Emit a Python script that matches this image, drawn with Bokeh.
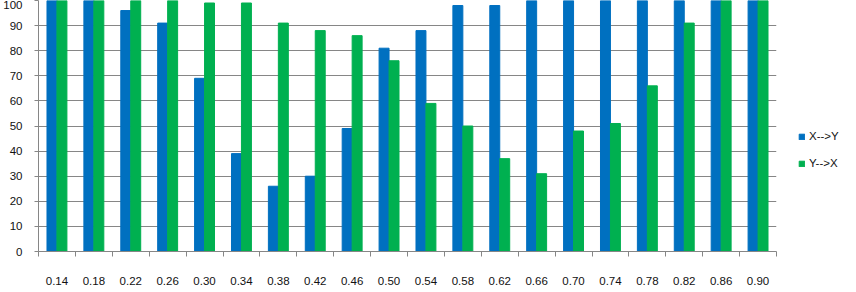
from bokeh.plotting import figure
from bokeh.models import FixedTicker, Range1d, Legend, LegendItem, ColumnDataSource
from bokeh.embed import file_html
from bokeh.resources import INLINE

categories = ["0.14", "0.18", "0.22", "0.26", "0.30", "0.34", "0.38", "0.42", "0.46", "0.50",
              "0.54", "0.58", "0.62", "0.66", "0.70", "0.74", "0.78", "0.82", "0.86", "0.90"]
x_to_y = [100, 100, 96, 91, 69, 39, 26, 30, 49, 81, 88, 98, 98, 100, 100, 100, 100, 100, 100, 100]
y_to_x = [100, 100, 100, 100, 99, 99, 91, 88, 86, 76, 59, 50, 37, 31, 48, 51, 66, 91, 100, 100]
y_ticks = [0, 10, 20, 30, 40, 50, 60, 70, 80, 90, 100]

n = len(categories)
centers = [i + 0.5 for i in range(n)]
bar_w = 0.27
src = ColumnDataSource(dict(
    xb=[c - bar_w / 2 for c in centers],
    xg=[c + bar_w / 2 for c in centers],
    a=x_to_y, b=y_to_x))

FONT = "Liberation Sans"
GRID = "#868686"

p = figure(frame_width=738, frame_height=251, output_backend="svg", toolbar_location=None,
           x_range=Range1d(0, n), y_range=Range1d(0, 100),
           min_border_left=0, min_border_right=0, min_border_top=0, min_border_bottom=0)
p.outline_line_color = None

rb = p.vbar(x="xb", top="a", width=bar_w, bottom=0, source=src,
            fill_color="#0070C0", line_color="#0070C0")
rg = p.vbar(x="xg", top="b", width=bar_w, bottom=0, source=src,
            fill_color="#00B050", line_color="#00B050")

# x axis: labels at centers, tick marks at category boundaries
p.xaxis.ticker = FixedTicker(ticks=centers, minor_ticks=[float(i) for i in range(n + 1)])
p.xaxis.major_label_overrides = {c: lab for c, lab in zip(centers, categories)}
p.xaxis.major_tick_out = 0
p.xaxis.major_tick_in = 0
p.xaxis.minor_tick_out = 5
p.xaxis.minor_tick_in = 0
p.xaxis.minor_tick_line_color = GRID
p.xaxis.axis_line_color = GRID
p.xaxis.major_label_standoff = 20
p.xaxis.major_label_text_font = FONT
p.xaxis.major_label_text_font_size = "11.5px"
p.xaxis.major_label_text_color = "#111111"

p.yaxis.ticker = FixedTicker(ticks=y_ticks, minor_ticks=[])
p.yaxis.major_tick_out = 4
p.yaxis.major_tick_in = 0
p.yaxis.major_tick_line_color = GRID
p.yaxis.axis_line_color = GRID
p.yaxis.major_label_standoff = 12
p.yaxis.major_label_text_font = FONT
p.yaxis.major_label_text_font_size = "11.5px"
p.yaxis.major_label_text_color = "#111111"

p.xgrid.grid_line_color = None
p.ygrid.grid_line_color = GRID
p.ygrid.grid_line_width = 1

legend = Legend(items=[LegendItem(label="X-->Y", renderers=[rb]),
                       LegendItem(label="Y-->X", renderers=[rg])],
                location=(22, 78), glyph_width=7, glyph_height=7, label_height=20,
                spacing=7, label_standoff=4, padding=0, margin=0,
                label_text_font=FONT, label_text_font_size="11.5px",
                label_text_color="#111111", border_line_color=None,
                background_fill_alpha=0)
p.add_layout(legend, "right")
p.min_border_right = 66

open("out.html", "w").write(file_html(p, INLINE))
